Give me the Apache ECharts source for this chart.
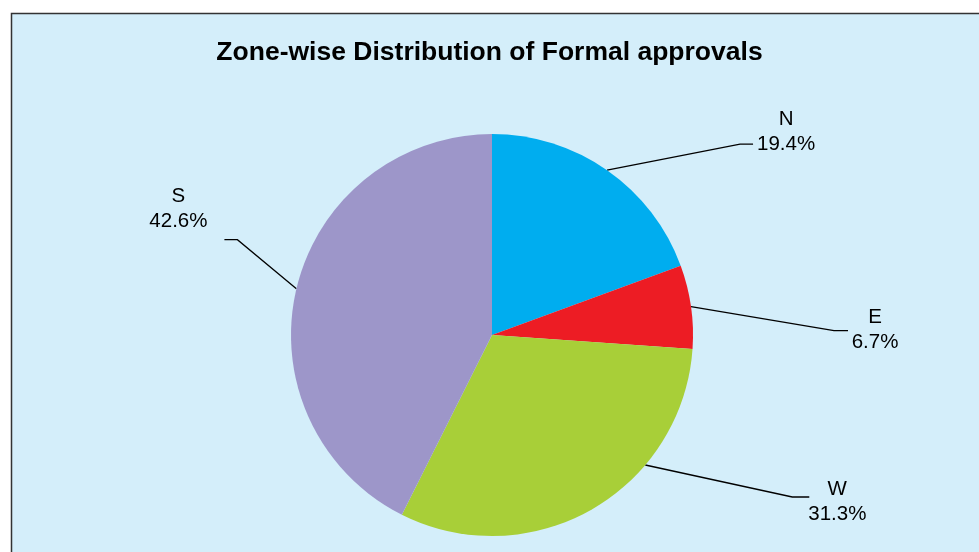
<!DOCTYPE html>
<html>
<head>
<meta charset="utf-8">
<script src="https://cdn.jsdelivr.net/npm/echarts@6/dist/echarts.min.js"></script>
<style>
  html, body { margin: 0; padding: 0; background: #fff; }
  #chart { width: 979px; height: 552px; }
</style>
</head>
<body>
<div id="chart"></div>
<script>
const zones = ['N', 'E', 'W', 'S'];
const shares = [19.4, 6.7, 31.3, 42.6];
const zoneColors = ['#00adef', '#ed1c24', '#a8cf38', '#9d96c9'];

// pie geometry
const CX = 492, CY = 335, R = 201;

// leader line styling per label: shift of anchor angle (deg), elbow offset, tail, text offset
const leader = [
  { shift: 0, elbow: [133, -26], tail: 13, text: [33, -12] },
  { shift: 0, elbow: [143, 24], tail: 14, text: [27, -1] },
  { shift: -20, elbow: [147, 32], tail: 17, text: [28, 5] },
  { shift: 0, elbow: [-59, -49], tail: -13, text: [-46, -31] }
];

const total = shares.reduce((a, b) => a + b, 0);
function anchorPoint(i) {
  let before = 0;
  for (let k = 0; k < i; k++) before += shares[k];
  const deg = (before + shares[i] / 2) / total * 360 + leader[i].shift;
  const rad = deg * Math.PI / 180;
  return [CX + R * Math.sin(rad), CY - R * Math.cos(rad)];
}

const chart = echarts.init(document.getElementById('chart'));
chart.setOption({
  backgroundColor: '#ffffff',
  animation: false,
  graphic: [{
    type: 'rect',
    z: -10,
    shape: { x: 11.5, y: 13.5, width: 1000, height: 600 },
    style: { fill: '#d4eefa', stroke: '#333333', lineWidth: 1.5 }
  }],
  title: {
    text: 'Zone-wise Distribution of Formal approvals',
    left: 'center',
    top: 34,
    textStyle: { fontFamily: 'Liberation Sans, Arial, sans-serif', fontSize: 26.5, fontWeight: 'bold', color: '#000' }
  },
  series: [{
    type: 'pie',
    center: [CX, CY],
    radius: R,
    startAngle: 90,
    clockwise: true,
    data: zones.map((z, i) => ({ name: z, value: shares[i], itemStyle: { color: zoneColors[i] } })),
    label: {
      show: true,
      position: 'outside',
      formatter: p => p.name + '\n' + shares[p.dataIndex].toFixed(1) + '%',
      fontFamily: 'Liberation Sans, Arial, sans-serif',
      fontSize: 20.5,
      lineHeight: 25,
      color: '#000'
    },
    labelLine: { show: true, lineStyle: { color: '#000', width: 1.3 } },
    labelLayout: function (params) {
      const i = params.dataIndex;
      const L = leader[i];
      const p0 = anchorPoint(i);
      const p1 = [p0[0] + L.elbow[0], p0[1] + L.elbow[1]];
      const p2 = [p1[0] + L.tail, p1[1]];
      return {
        x: p2[0] + L.text[0],
        y: p2[1] + L.text[1],
        align: 'center',
        verticalAlign: 'middle',
        labelLinePoints: [p0, p1, p2]
      };
    },
    emphasis: { disabled: true }
  }]
});
</script>
</body>
</html>
